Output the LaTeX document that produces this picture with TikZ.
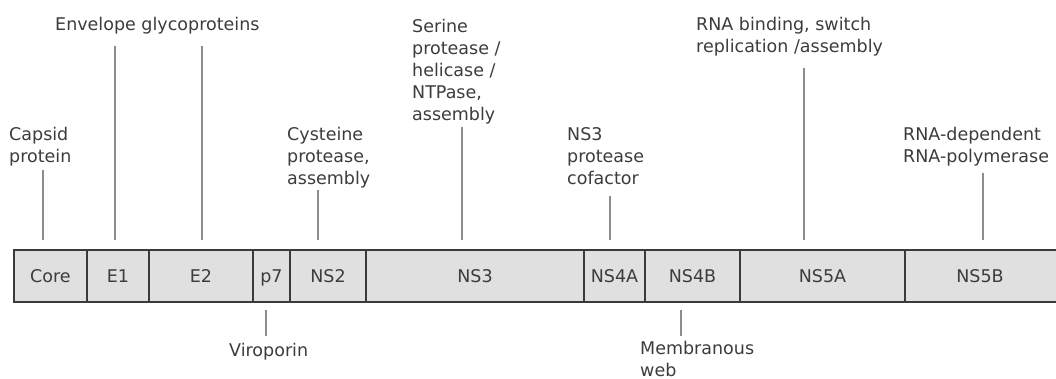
\documentclass[tikz,border=0pt]{standalone}
\usepackage{fontspec}
\setmainfont{DejaVu Sans}
\usetikzlibrary{positioning}
\definecolor{segfill}{HTML}{E0E0E0}
\definecolor{segline}{HTML}{3A3A3A}
\definecolor{txtgray}{HTML}{3C3C3C}
\definecolor{leadgray}{HTML}{8C8C8C}

\begin{document}
\begin{tikzpicture}[x=1pt, y=-1pt,
		font=\fontsize{17.5}{22}\selectfont,
		seg/.style={draw=segline, fill=segfill, line width=2pt, minimum height=52pt,
			inner sep=0pt, outer sep=0pt, text height=12.5pt, text depth=0pt, text=txtgray, anchor=west},
		lbl/.style={anchor=base west, align=left, inner sep=0pt, text=txtgray},
		lead/.style={draw=leadgray, line width=1.5pt}]
			\useasboundingbox (0,0) rectangle (1056,379);

			\node[seg, minimum width=73pt] (core) at (14,276) {Core};
			\node[seg, minimum width=62pt, right=0pt of core] (e1) {E1};
			\node[seg, minimum width=104pt, right=0pt of e1] (e2) {E2};
			\node[seg, minimum width=37pt, right=0pt of e2] (p7) {p7};
			\node[seg, minimum width=76pt, right=0pt of p7] (ns2) {NS2};
			\node[seg, minimum width=218pt, right=0pt of ns2] (ns3) {NS3};
			\node[seg, minimum width=61pt, right=0pt of ns3] (ns4a) {NS4A};
			\node[seg, minimum width=95pt, right=0pt of ns4a] (ns4b) {NS4B};
			\node[seg, minimum width=165pt, right=0pt of ns4b] (ns5a) {NS5A};
			\node[seg, minimum width=160pt, right=0pt of ns5a] (ns5b) {\hspace*{-10pt}NS5B};

			\node[lbl] (envelope) at (55,31) {Envelope glycoproteins};
			\node[lbl] (capsid) at (9,163) {Capsid\\protein};
			\node[lbl] (cysteine) at (287,185) {Cysteine\\protease,\\assembly};
			\node[lbl] (serine) at (412,121) {Serine\\protease /\\helicase /\\NTPase,\\assembly};
			\node[lbl] (cofactor) at (567,185) {NS3\\protease\\cofactor};
			\node[lbl] (binding) at (696,53) {RNA binding, switch\\replication /assembly};
			\node[lbl] (polymerase) at (903,163) {RNA-dependent\\RNA-polymerase};
			\node[lbl] (viroporin) at (229,356) {Viroporin};
			\node[lbl] (web) at (640,376) {Membranous\\web};

			\foreach \seg/\x/\y in {core/43/170, e1/115/46, e2/202/46, ns2/318/190,
					ns3/462/127, ns4a/610/196, ns5a/804/68, ns5b/983/173} {
				\coordinate (\seg-tip) at (\x,\y);
				\draw[lead, shorten >=10pt] (\seg-tip) -- (\seg-tip |- \seg.north);
			}
			\foreach \seg/\x in {p7/266, ns4b/681} {
				\coordinate (\seg-tip) at (\x,336);
				\draw[lead, shorten >=8pt] (\seg-tip) -- (\seg-tip |- \seg.south);
			}
		\end{tikzpicture}
\end{document}
